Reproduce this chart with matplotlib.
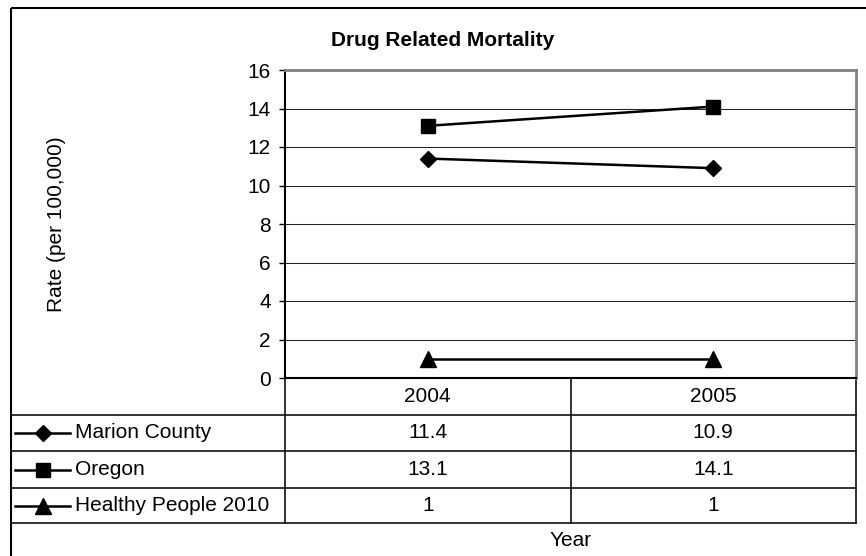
import matplotlib
matplotlib.use('Agg')
import matplotlib.pyplot as plt
import matplotlib.transforms as mtransforms
from matplotlib.lines import Line2D
from matplotlib.patches import Rectangle

plt.rcParams['font.family'] = ['Liberation Sans', 'DejaVu Sans']

years = ['2004', '2005']
series_names = ['Marion County', 'Oregon', 'Healthy People 2010']
marion = [11.4, 10.9]
oregon = [13.1, 14.1]
healthy = [1, 1]
series_values = [marion, oregon, healthy]
y_ticks = [0, 2, 4, 6, 8, 10, 12, 14, 16]

markers = ['D', 's', '^']
marker_sizes = [7.8, 10.5, 11]
fs = 15

# figure is 866x556 px; layout numbers below are pixels
W, H = 866, 556
fig = plt.figure(figsize=(W / 100, H / 100), dpi=100)

# background axes in pixel coords, used for frame and table
bg = fig.add_axes([0, 0, 1, 1])
bg.set_xlim(0, W)
bg.set_ylim(H, 0)
bg.axis('off')

left, right, top, bottom = 285, 856, 70, 378
ax = fig.add_axes([left / W, 1 - bottom / H, (right - left) / W, (bottom - top) / H])

x = list(range(len(years)))
for vals, m, ms in zip(series_values, markers, marker_sizes):
    ax.plot(x, vals, color='black', lw=1.8, marker=m, markersize=ms,
            markerfacecolor='black', markeredgecolor='black', zorder=3)

ax.set_xlim(-0.5, len(years) - 0.5)
ax.set_ylim(0, 16)
ax.set_yticks(y_ticks)
ax.set_yticklabels([str(t) for t in y_ticks], fontsize=fs)
ax.set_xticks([])
ax.tick_params(axis='y', direction='out', length=4.3, width=1, pad=5.8, colors='black')
ax.grid(axis='y', color='#222222', lw=0.75, zorder=1)
ax.set_axisbelow(True)
for s in ['top', 'right']:
    ax.spines[s].set_color('#808080')
    ax.spines[s].set_linewidth(2)
ax.spines['left'].set_linewidth(1.5)
ax.spines['bottom'].set_linewidth(1.5)

# outer chart frame (clipped at right/bottom like the source)
bg.add_patch(Rectangle((10.5, 8), 870, 560, fill=False, edgecolor='black', lw=1.5))

fig.text(443 / W, 1 - 40 / H, 'Drug Related Mortality', fontsize=fs,
         fontweight='bold', ha='center', va='center')
fig.text(56 / W, 1 - 224 / H, 'Rate (per 100,000)', fontsize=fs,
         rotation=90, ha='center', va='center')

# data table
row_edges = [378, 415, 451, 488, 523]
tc = mtransforms.blended_transform_factory(ax.transData, bg.transData)
lc = '#111111'
# header row
bg.plot([left, left], [row_edges[0], row_edges[-1]], color=lc, lw=1.2)
bg.plot([right, right], [row_edges[0], row_edges[-1]], color=lc, lw=1.2)
ax_mid = ax.transData.transform((0.5, 0))[0]
mid_px = bg.transData.inverted().transform((ax_mid, 0))[0]
bg.plot([mid_px, mid_px], [row_edges[0], row_edges[-1]], color=lc, lw=1.2)
for ye in row_edges[1:]:
    bg.plot([11, right], [ye, ye], color=lc, lw=1.2)

hc = (row_edges[0] + row_edges[1]) / 2
for i, yr in enumerate(years):
    bg.text(i, hc, yr, transform=tc, fontsize=fs, ha='center', va='center')

for r, (name, vals, m, ms) in enumerate(zip(series_names, series_values, markers, marker_sizes)):
    yc = (row_edges[r + 1] + row_edges[r + 2]) / 2
    bg.plot([15, 70], [yc, yc], color='black', lw=1.8)
    bg.plot([42.5], [yc], marker=m, markersize=ms, color='black')
    bg.text(75, yc, name, fontsize=fs, ha='left', va='center')
    for i, v in enumerate(vals):
        bg.text(i, yc, f'{v:g}', transform=tc, fontsize=fs, ha='center', va='center')

bg.text(0.5, 540, 'Year', transform=tc, fontsize=fs, ha='center', va='center')

fig.savefig('out.png', dpi=100)
